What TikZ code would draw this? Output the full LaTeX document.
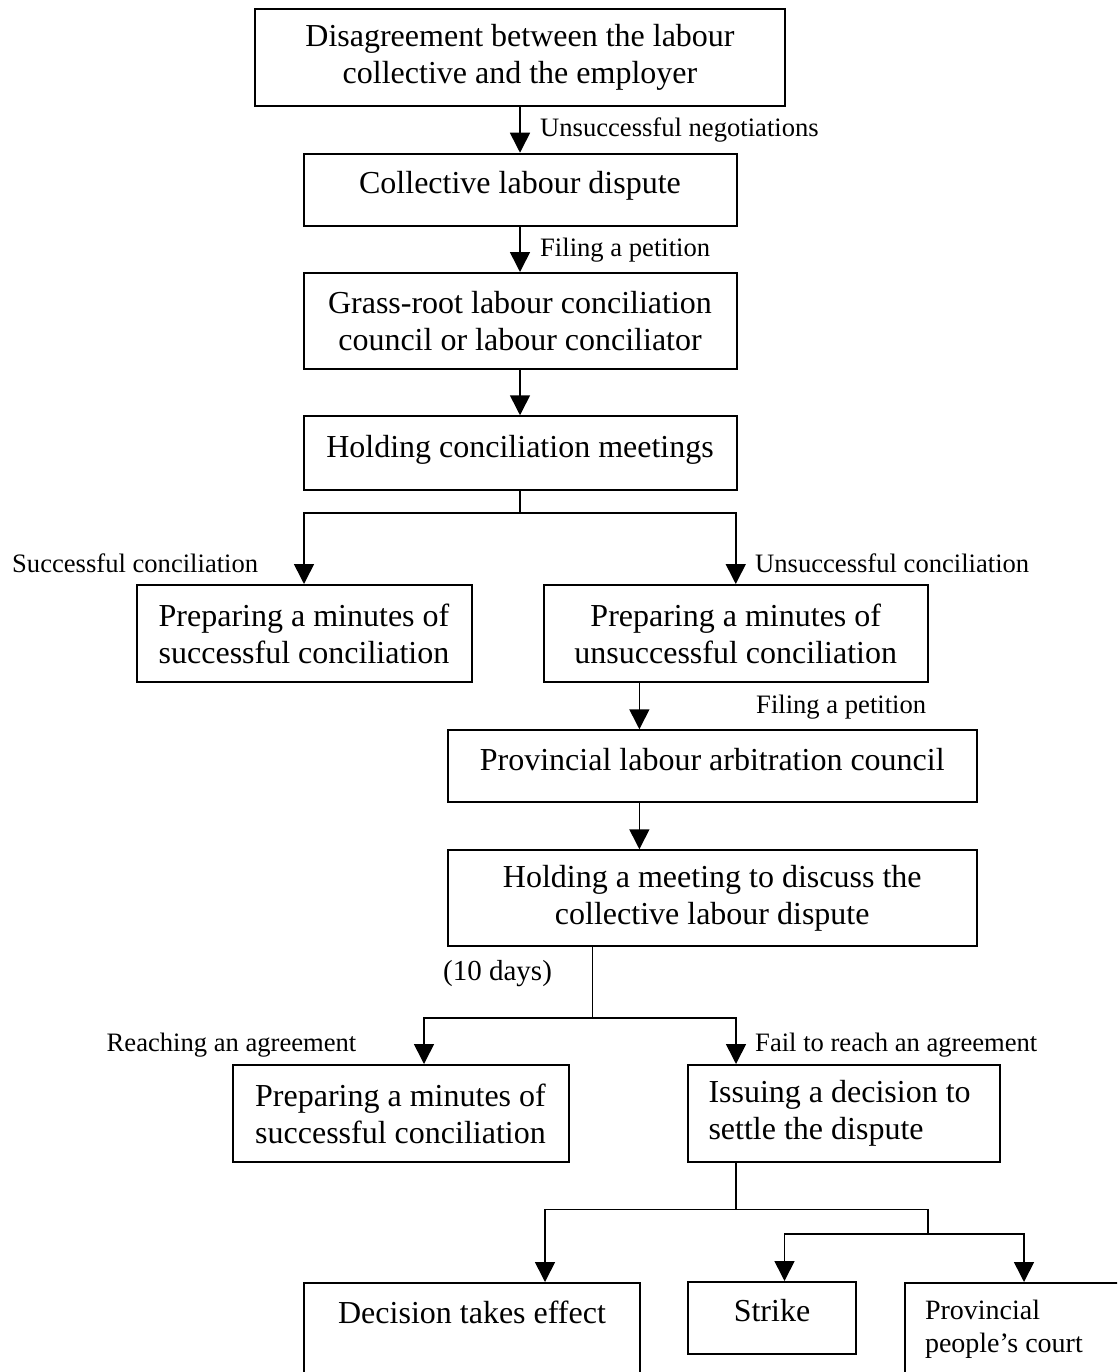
\documentclass[tikz,border=0pt]{standalone}
\usepackage{fontspec}
\setmainfont{Liberation Serif}
\usetikzlibrary{arrows.meta,calc}

\begin{document}
\begin{tikzpicture}[x=1pt,y=1pt,>={Triangle[length=20pt,width=20pt]},
    box/.style={draw,line width=2pt,align=center,inner sep=0pt,font=\fontsize{32}{37}\selectfont},
    oneline/.style={text height=22pt,text depth=14pt},
    lbl/.style={anchor=west,inner sep=0pt,font=\fontsize{26.6}{32}\selectfont},
    link/.style={line width=1.6pt}]
    \useasboundingbox (0,0) rectangle (1117,-1372);
    \clip (0,0) rectangle (1117,-1372);
    \node[box,minimum width=530pt,minimum height=97pt] (dis) at (520,-57.5) {Disagreement between the labour\\collective and the employer};
    \node[box,oneline,minimum width=433pt,minimum height=72.5pt] (col) at (520,-190) {Collective labour dispute};
    \node[box,minimum width=433pt,minimum height=96pt] (gra) at (520,-321) {Grass-root labour conciliation\\council or labour conciliator};
    \node[box,oneline,minimum width=433pt,minimum height=73.5pt] (hol) at (520,-453) {Holding conciliation meetings};
    \node[box,minimum width=335pt,minimum height=97pt] (sucL) at (304,-633.5) {Preparing a minutes of\\successful conciliation};
    \node[box,minimum width=383.5pt,minimum height=97pt] (unsR) at (735.75,-633.5) {Preparing a minutes of\\unsuccessful conciliation};
    \node[box,oneline,minimum width=528.5pt,minimum height=71.5pt] (pro) at (712.25,-766) {Provincial labour arbitration council};
    \node[box,minimum width=528.5pt,minimum height=95.5pt] (mee) at (712.25,-898) {Holding a meeting to discuss the\\collective labour dispute};
    \node[box,minimum width=336pt,minimum height=97pt] (reaL) at (400.5,-1113.5) {Preparing a minutes of\\successful conciliation};
    \node[box,text width=271pt,inner xsep=20.5pt,align=flush left,minimum height=97pt] (iss) at (844,-1113.5) {Issuing a decision to\\settle the dispute};
    \node[box,anchor=north,minimum width=336.5pt,text height=40pt,text depth=100pt] (dec) at (472,-1282) {Decision takes effect};
    \node[box,oneline,minimum width=167.5pt,minimum height=71.5pt] (stk) at (772,-1317.75) {Strike};
    \node[box,anchor=north west,text width=200pt,inner xsep=20.5pt,align=flush left,text height=36pt,text depth=100pt,font=\fontsize{28}{33}\selectfont] (crt) at (903.5,-1282) {Provincial\\people’s court};

    \node[lbl] (neg) at (540,-130) {Unsuccessful negotiations};
    \node[lbl] (fil1) at (540,-250) {Filing a petition};
    \node[lbl] (suc) at (12,-563) {Successful conciliation};
    \node[lbl] (uns) at (755,-563) {Unsuccessful conciliation};
    \node[lbl] (fil2) at (756,-707) {Filing a petition};
    \node[lbl,font=\fontsize{29}{34}\selectfont] (ten) at (443,-974) {(10 days)};
    \node[lbl] (rea) at (106.5,-1045) {Reaching an agreement};
    \node[lbl] (fai) at (755,-1045) {Fail to reach an agreement};

    \draw[link,->] (dis) -- (col);
    \draw[link,->] (col) -- (gra);
    \draw[link,->] (gra) -- (hol);
    \coordinate (j1) at (520,-513);
    \draw[link] (hol) -- (j1);
    \draw[link,->] (j1) -| (sucL);
    \draw[link,->] (j1) -| (unsR);
    \coordinate (u1) at ($(unsR.south west)!.25!(unsR.south east)$);
    \draw[link,->] (u1) -- (u1 |- pro.north);
    \draw[link,->] (u1 |- pro.south) -- (u1 |- mee.north);
    \coordinate (j2) at (592.5,-1018);
    \draw[link] (j2 |- mee.south) -- (j2);
    \draw[link,->] (j2) -| ([xshift=23.5pt]reaL.north);
    \draw[link,->] (j2) -| ([xshift=-108pt]iss.north);
    \coordinate (j3) at (736,-1209.5);
    \coordinate (j4) at (928,-1234);
    \draw[link] ([xshift=-108pt]iss.south) -- (j3) -| (j4);
    \draw[link,->] (j3) -| ([xshift=73pt]dec.north);
    \draw[link,->] (j4) -| ([xshift=12.5pt]stk.north);
    \draw[link,->] (j4) -| ([xshift=120.5pt]crt.north west);
\end{tikzpicture}
\end{document}
